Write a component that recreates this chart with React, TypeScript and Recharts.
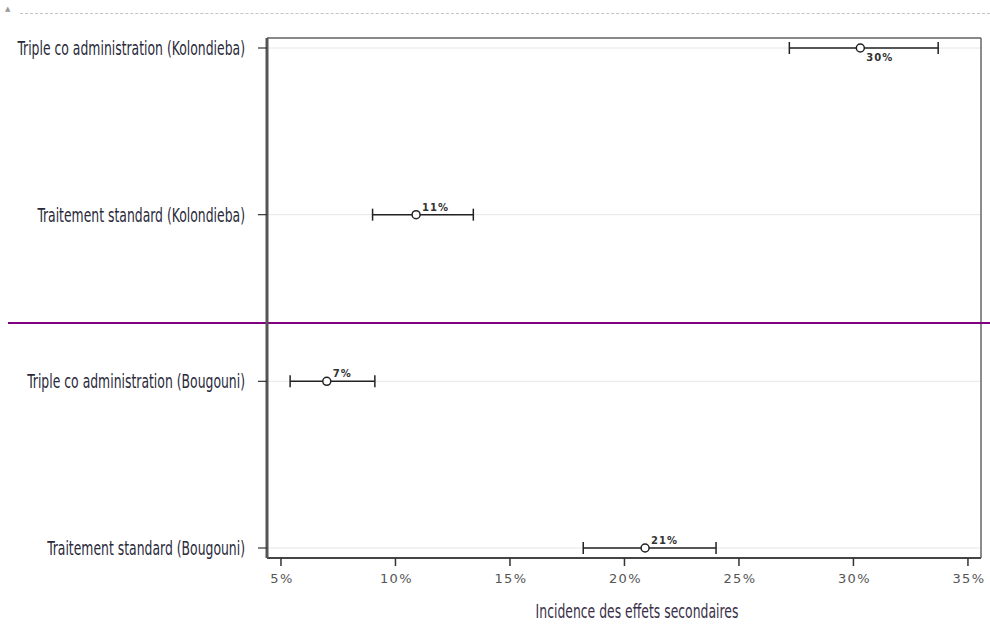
import { ScatterChart, Scatter, XAxis, YAxis, CartesianGrid, ErrorBar, ReferenceLine } from 'recharts';

// rows are numbered bottom -> top
const categories = [
  'Traitement standard (Bougouni)',
  'Triple co administration (Bougouni)',
  'Traitement standard (Kolondieba)',
  'Triple co administration (Kolondieba)',
];
const incidence = [20.9, 7.0, 10.9, 30.3];
const lower = [18.2, 5.4, 9.0, 27.2];
const upper = [24.0, 9.1, 13.4, 33.7];
const pointLabels = ['21%', '7%', '11%', '30%'];
const xTicks = [5, 10, 15, 20, 25, 30, 35];
const rowTicks = [0, 1, 2, 3];
const siteSplit = 1.35;

const xDomain = [4.39, 35.57];
const yDomain = [-0.06, 3.06];

const data = categories.map((name, i) => ({
  row: i,
  name,
  value: incidence[i],
  err: [incidence[i] - lower[i], upper[i] - incidence[i]],
  label: pointLabels[i],
}));

const condensed = '"DejaVu Sans Condensed", "DejaVu Sans", sans-serif';

function RowTick(props: any) {
  const { x, y, payload } = props;
  return (
    <text
      transform={`translate(${x - 11},${y + 7}) scale(0.69,1)`}
      textAnchor="end"
      fontFamily={condensed}
      fontSize={20}
      fill="#2a2a3a"
    >
      {categories[payload.value]}
    </text>
  );
}

function PctTick(props: any) {
  const { x, y, payload } = props;
  return (
    <text x={x + 1} y={y + 15} textAnchor="middle" fontFamily="DejaVu Sans" fontSize={13} letterSpacing={1.3} fill="#555">
      {payload.value}%
    </text>
  );
}

function Point(props: any) {
  const { cx, cy, payload } = props;
  // the top estimate has its label under the marker
  const below = payload.row === 3;
  return (
    <g>
      <circle cx={cx} cy={cy} r={4} fill="#fff" stroke="#222" strokeWidth={1.5} />
      <text
        x={cx + 6}
        y={below ? cy + 13 : cy - 4}
        fontFamily="DejaVu Sans"
        fontWeight="bold"
        fontSize={10}
        letterSpacing={1}
        fill="#333"
      >
        {payload.label}
      </text>
    </g>
  );
}

export default function App() {
  return (
    <div style={{ position: 'absolute', left: 0, top: 0, width: 990, height: 632, background: '#fff' }}>
      <div style={{ position: 'absolute', left: 20, right: 0, top: 13, borderTop: '1px dashed #c4c4c4' }} />
      <div style={{ position: 'absolute', left: 5, top: 5, fontSize: 7, color: '#999', fontFamily: 'DejaVu Sans' }}>▲</div>
      <ScatterChart width={990} height={632} margin={{ top: 38, right: 9, bottom: 24, left: 0 }}>
        <CartesianGrid vertical={false} stroke="#e6e6e6" />
        <XAxis
          type="number"
          dataKey="value"
          domain={xDomain}
          ticks={xTicks}
          allowDataOverflow
          height={50}
          tickSize={8}
          tickLine={{ stroke: '#333', strokeWidth: 1.5 }}
          axisLine={{ stroke: '#444', strokeWidth: 2 }}
          tick={<PctTick />}
          label={({ viewBox }: any) => (
            <text
              transform={`translate(${viewBox.x + viewBox.width / 2 + 13},${viewBox.y + 60}) scale(0.69,1)`}
              textAnchor="middle"
              fontFamily={condensed}
              fontSize={20}
              fill="#3a3048"
            >
              Incidence des effets secondaires
            </text>
          )}
        />
        <YAxis
          type="number"
          dataKey="row"
          domain={yDomain}
          ticks={rowTicks}
          allowDataOverflow
          width={267}
          tickSize={9}
          tickLine={{ stroke: '#333', strokeWidth: 1.2 }}
          axisLine={{ stroke: '#555', strokeWidth: 3 }}
          tick={<RowTick />}
        />
        {/* frame: top and right edges of the plot */}
        <ReferenceLine y={yDomain[1]} stroke="#666" strokeWidth={1.5} ifOverflow="visible" />
        <ReferenceLine x={xDomain[1]} stroke="#666" strokeWidth={1.5} ifOverflow="visible" />
        <ReferenceLine
          y={siteSplit}
          stroke="#800080"
          strokeWidth={2}
          shape={(p: any) => <line x1={8} x2={990} y1={p.y1} y2={p.y2} stroke="#800080" strokeWidth={2} />}
        />
        <Scatter data={data} shape={<Point />} isAnimationActive={false}>
          <ErrorBar dataKey="err" direction="x" width={6} stroke="#222" strokeWidth={1.5} />
        </Scatter>
      </ScatterChart>
    </div>
  );
}
